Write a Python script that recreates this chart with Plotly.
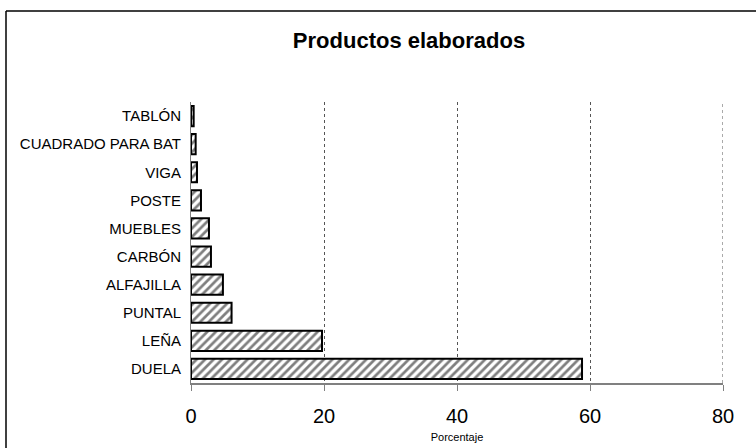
import plotly.graph_objects as go

# Share of elaborated products (percent)
productos = ["DUELA", "LEÑA", "PUNTAL", "ALFAJILLA", "CARBÓN",
             "MUEBLES", "POSTE", "VIGA", "CUADRADO PARA BAT", "TABLÓN"]
porcentaje = [58.8, 19.7, 6.1, 4.8, 3.0, 2.7, 1.5, 0.9, 0.7, 0.4]
x_ticks = [0, 20, 40, 60, 80]

W, H = 756, 448
L, R, T, B = 191, 33, 102, 65
pw, ph = W - L - R, H - T - B


def px_x(v):
    return (v - L) / pw


def px_y(v):
    return (H - B - v) / ph


fig = go.Figure(go.Bar(
    x=porcentaje,
    y=productos,
    orientation="h",
    marker=dict(
        color="white",
        line=dict(color="black", width=2),
        pattern=dict(shape="/", fgcolor="black", bgcolor="white",
                     size=6, solidity=0.45),
    ),
    width=0.72,
))

grid_style = dict(color="#555555", width=1, dash="dot")

fig.update_layout(
    width=W, height=H,
    margin=dict(l=L, r=R, t=T, b=B, autoexpand=False),
    paper_bgcolor="white", plot_bgcolor="white",
    font=dict(family="Liberation Sans, Arial, sans-serif", color="black"),
    showlegend=False,
    title=dict(text="<b>Productos elaborados</b>", font=dict(size=22),
               x=px_x(409), xref="paper", xanchor="center",
               y=1 - 40 / H, yref="container", yanchor="middle"),
    xaxis=dict(
        range=[0, 80], tickvals=x_ticks, ticktext=[str(t) for t in x_ticks],
        tickfont=dict(size=20), ticks="outside", ticklen=6, tickcolor="#808080",
        ticklabelstandoff=8, automargin=False,
        showline=True, linecolor="#808080", linewidth=2,
        showgrid=True, gridcolor="#555555", griddash="dot", gridwidth=1,
        zeroline=False,
        title=dict(text="Porcentaje", font=dict(size=11), standoff=7),
    ),
    yaxis=dict(
        categoryorder="array", categoryarray=productos,
        tickfont=dict(size=15), ticks="", ticklabelstandoff=6,
        automargin=False,
        showline=True, linecolor="#808080", linewidth=1,
        showgrid=False, zeroline=False,
    ),
    shapes=[
        # gridline at the upper end of the axis range
        dict(type="line", xref="x", yref="paper",
             x0=x_ticks[-1], x1=x_ticks[-1], y0=0, y1=1, line=grid_style),
        # chart frame: top and left edges
        dict(type="line", xref="paper", yref="paper",
             x0=px_x(6), x1=px_x(W + 5), y0=px_y(11), y1=px_y(11),
             line=dict(color="black", width=1.5)),
        dict(type="line", xref="paper", yref="paper",
             x0=px_x(6), x1=px_x(6), y0=px_y(11), y1=px_y(H + 5),
             line=dict(color="black", width=1.5)),
    ],
)

fig.write_html("out.html")
